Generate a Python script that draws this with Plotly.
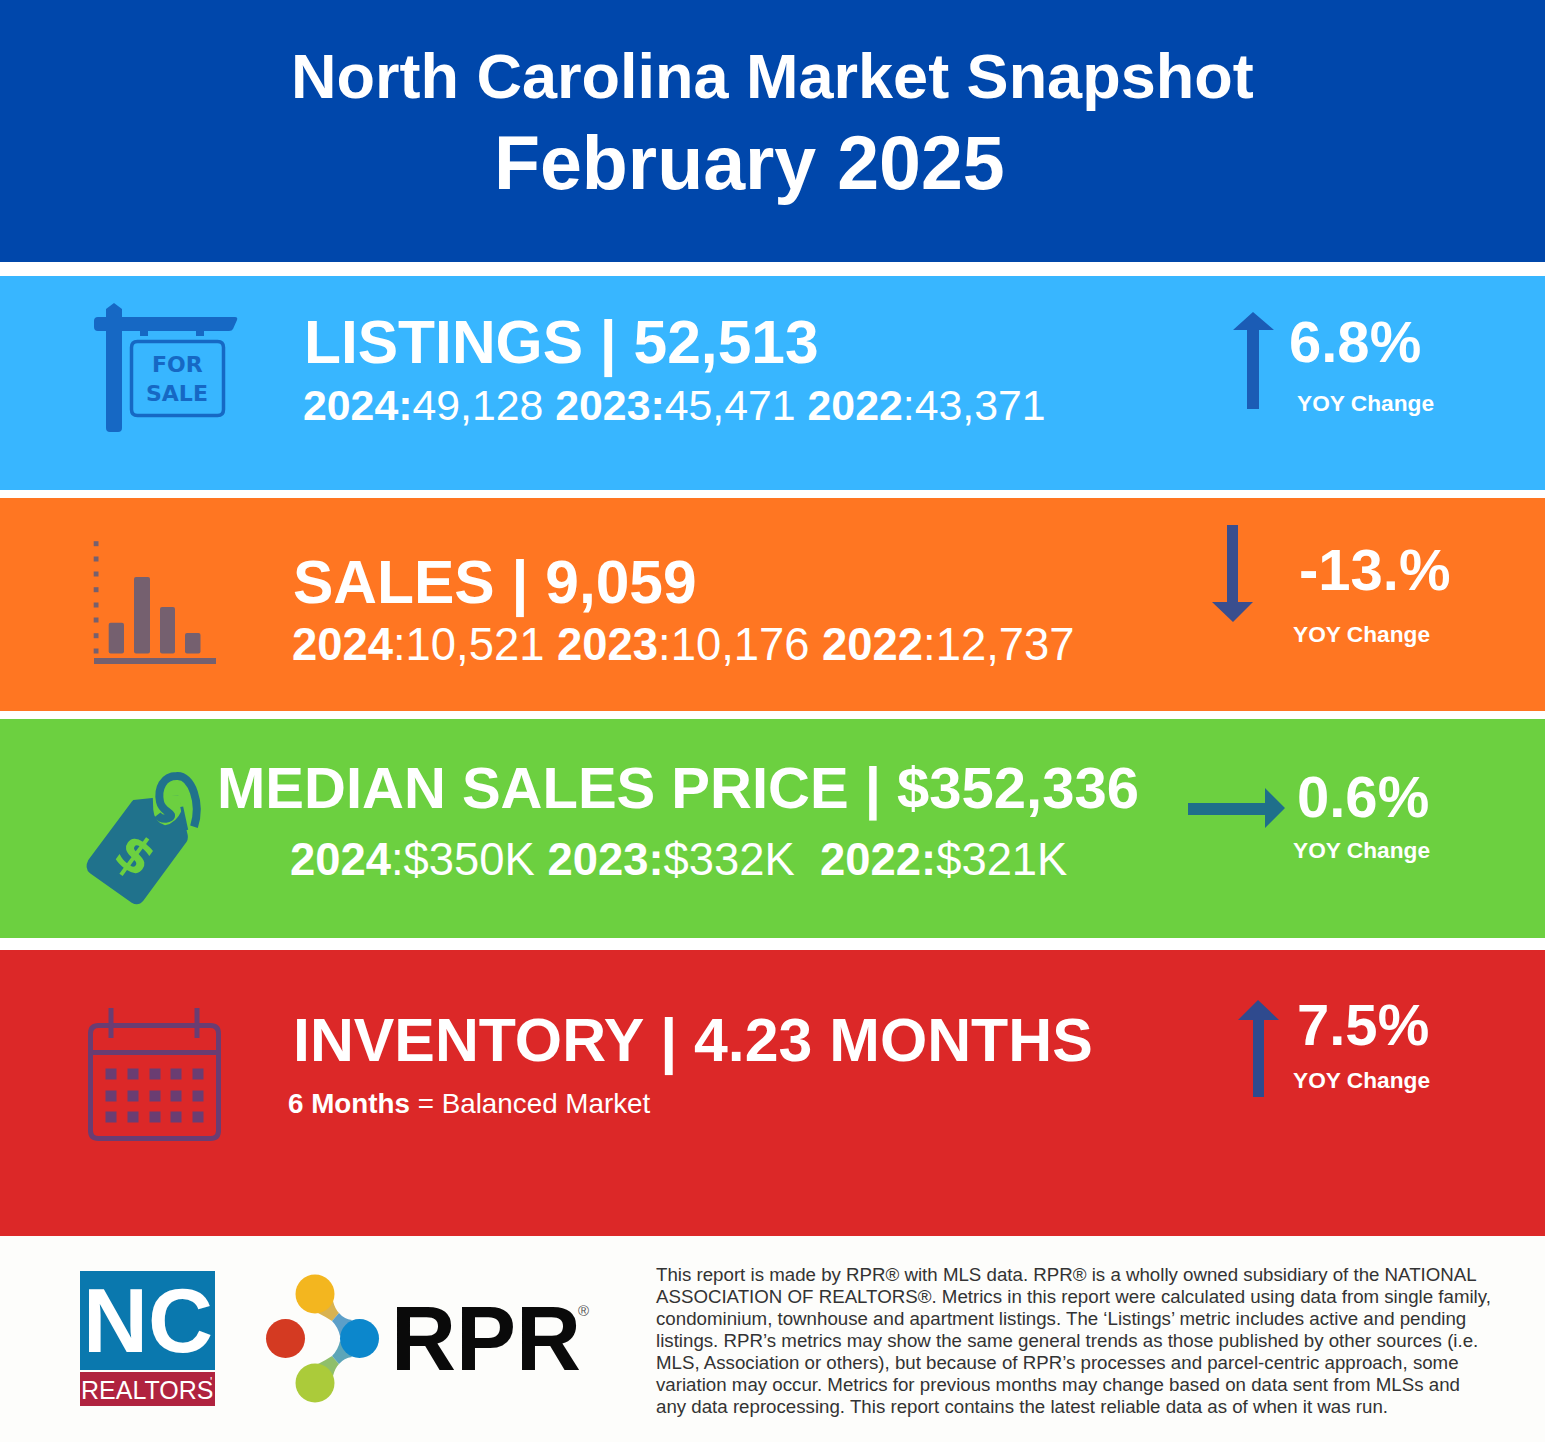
import plotly.graph_objects as go

# ---------- data ----------
metric_names = ["LISTINGS", "SALES", "MEDIAN SALES PRICE", "INVENTORY"]
metric_values = ["52,513", "9,059", "$352,336", "4.23 MONTHS"]
yoy_changes = ["6.8%", "-13.%", "0.6%", "7.5%"]
history_years = ["2024", "2023", "2022"]
listings_history = ["49,128", "45,471", "43,371"]
sales_history = ["10,521", "10,176", "12,737"]
price_history = ["$350K", "$332K", "$321K"]
footer_lines = [
    "This report is made by RPR® with MLS data. RPR® is a wholly owned subsidiary of the NATIONAL",
    "ASSOCIATION OF REALTORS®. Metrics in this report were calculated using data from single family,",
    "condominium, townhouse and apartment listings. The ‘Listings’ metric includes active and pending",
    "listings. RPR’s metrics may show the same general trends as those published by other sources (i.e.",
    "MLS, Association or others), but because of RPR’s processes and parcel-centric approach, some",
    "variation may occur. Metrics for previous months may change based on data sent from MLSs and",
    "any data reprocessing. This report contains the latest reliable data as of when it was run.",
]

W, H = 1545, 1442
FONT = "Liberation Sans"
shapes, annos = [], []


def rect(x0, y0, x1, y1, fill, line=None, lw=0):
    shapes.append(dict(type="rect", x0=x0, y0=y0, x1=x1, y1=y1, fillcolor=fill,
                       line=dict(color=line or fill, width=lw), layer="below"))


def path(d, fill="rgba(0,0,0,0)", line=None, lw=0):
    shapes.append(dict(type="path", path=d, fillcolor=fill,
                       line=dict(color=line or "rgba(0,0,0,0)", width=lw), layer="below"))


def rrect(x0, y0, x1, y1, r):
    return (f"M{x0+r},{y0} L{x1-r},{y0} Q{x1},{y0} {x1},{y0+r} L{x1},{y1-r} Q{x1},{y1} {x1-r},{y1} "
            f"L{x0+r},{y1} Q{x0},{y1} {x0},{y1-r} L{x0},{y0+r} Q{x0},{y0} {x0+r},{y0} Z")


def circle(cx, cy, r, fill):
    shapes.append(dict(type="circle", x0=cx-r, y0=cy-r, x1=cx+r, y1=cy+r, fillcolor=fill,
                       line=dict(width=0), layer="below"))


def text(x, y, s, size, color="#FFFFFF", anchor="left", family=FONT, angle=0):
    annos.append(dict(x=x, y=y, text=s, xref="x", yref="y", showarrow=False, xanchor=anchor,
                      yanchor="middle", textangle=angle, align=anchor,
                      font=dict(family=family, size=size, color=color), borderpad=0, borderwidth=0))


# ---------- bands ----------
rect(0, 0, W, H, "#FDFDFB")
rect(0, 0, W, 262, "#0047AB")
rect(0, 262, W, 276, "#FFFFFF")
rect(0, 276, W, 490, "#38B6FF")
rect(0, 490, W, 498, "#FFFFFF")
rect(0, 498, W, 711, "#FF7622")
rect(0, 711, W, 719, "#FFFFFF")
rect(0, 719, W, 938, "#6CD040")
rect(0, 938, W, 950, "#FFFFFF")
rect(0, 950, W, 1236, "#DC2828")

# ---------- headline text ----------
text(772.5, 76, "<b>North Carolina Market Snapshot</b>", 63, anchor="center")
text(749.5, 163, "<b>February 2025</b>", 75.3, anchor="center")


def headline(i):
    return f"<b>{metric_names[i]} | {metric_values[i]}</b>"


def history(vals, bold_colon):
    parts = []
    for y, v, b in zip(history_years, vals, bold_colon):
        parts.append(f"<b>{y}:</b>{v}" if b else f"<b>{y}</b>:{v}")
    return parts


text(304, 343, headline(0), 60.5)
text(303, 405, " ".join(history(listings_history, [True, True, False])), 42.8)
text(293, 583, headline(1), 60.5)
text(292, 644, " ".join(history(sales_history, [False, False, False])), 45.4)
text(217, 788, headline(2), 58)
text(290, 859, " ".join(history(price_history, [False, True, True])).replace("K <b>2022", "K\u00a0 <b>2022"), 45.4)
text(293, 1041, headline(3), 60.8)
text(288, 1103, "<b>6 Months</b> = Balanced Market", 27.8)

for (x, y, val, yx, yy) in [(1289, 341, yoy_changes[0], 1297, 403),
                            (1299, 569, yoy_changes[1], 1293, 634),
                            (1297, 796, yoy_changes[2], 1293, 850),
                            (1297, 1024, yoy_changes[3], 1293, 1080)]:
    text(x, y, f"<b>{val}</b>", 58)
    text(yx, yy, "<b>YOY Change</b>", 22.7)

# ---------- arrows ----------
path("M1253,312 L1274,330 L1259,330 L1259,409 L1247,409 L1247,330 L1233,330 Z", "#1B5CB5")
path("M1227,525 L1238,525 L1238,602 L1253,602 L1233,622 L1212,602 L1227,602 Z", "#3A4E8E")
path("M1188,803 L1265,803 L1265,788 L1285,808 L1265,828 L1265,815 L1188,815 Z", "#1F6F8B")
path("M1258,1000 L1279,1020 L1264,1020 L1264,1097 L1253,1097 L1253,1020 L1238,1020 Z", "#2F4A8E")

# ---------- for-sale icon ----------
C = "#1668C4"
path("M106,309 L114,303 L122,309 L122,317 L235,317 Q238,317 237,320 L233,329 Q232,331 229,331 L122,331 "
     "L122,428 Q122,432 118,432 L110,432 Q106,432 106,428 L106,331 L98,331 Q94,331 94,327 L94,321 Q94,317 98,317 L106,317 Z", C)
rect(140, 331, 148, 336, C)
rect(196, 331, 204, 336, C)
path(rrect(131.5, 341.5, 223.5, 415.5, 6), line=C, lw=3.5)
text(177, 364.5, "<b>FOR</b>", 22, C, "center", "DejaVu Sans")
text(177, 393.5, "<b>SALE</b>", 22, C, "center", "DejaVu Sans")

# ---------- bar-chart icon ----------
C = "#75606F"
for y in [543.7, 559, 574, 589.7, 605, 620, 635.7, 651]:
    rect(93.7, y-2.5, 98.5, y+2.5, C)
for x0, x1, top in [(108.7, 124, 622.7), (134, 150, 577), (160, 175, 607), (185, 200.5, 633)]:
    path(rrect(x0, top, x1, 653.5, 2), C)
rect(94, 658, 216, 664, C)

# ---------- tag icon ----------
C = "#20728C"
G = "#6CD040"


def z(x, y):
    return f"{70 + x / 3:.1f},{760 + y / 3:.1f}"


path(f"M{z(190,120)} L{z(325,106)} L{z(353,225)} Q{z(356,240)} {z(345,252)} L{z(220,422)} "
     f"Q{z(205,440)} {z(185,428)} L{z(60,340)} Q{z(42,325)} {z(55,300)} L{z(185,125)} Z", C)
path(f"M{z(248,106)} L{z(328,106)} L{z(336,150)} Q{z(318,190)} {z(285,196)} Q{z(252,185)} {z(250,150)} Z", G)
path(f"M{z(372,200)} C{z(395,130)} {z(365,45)} {z(320,48)} C{z(280,48)} {z(262,85)} {z(270,125)} "
     f"C{z(275,150)} {z(298,155)} {z(303,165)} C{z(305,178)} {z(275,182)} {z(262,165)}", line=C, lw=8)
path(f"M{z(335,140)} L{z(350,210)}", line=C, lw=3)
text(135, 855, "<b>$</b>", 50, G, "center", "DejaVu Sans", 36)

# ---------- calendar icon ----------
C = "#6A3D72"
path(rrect(90.5, 1025.5, 218.5, 1138.5, 8), line=C, lw=5)
rect(90, 1050, 219, 1055, C)
path("M111,1008 L111,1038", line=C, lw=5)
path("M197,1008 L197,1038", line=C, lw=5)
for cy in [1074, 1096, 1117]:
    for cx in [111, 133, 155, 176, 198]:
        rect(cx-5.5, cy-5.5, cx+5.5, cy+5.5, C)

# ---------- logos ----------
rect(80, 1271, 215, 1370, "#0A78AE")
rect(80, 1372, 215, 1406, "#B0233F")
text(148, 1321, "<b>NC</b>", 90, anchor="center")
text(147, 1390, "REALTORS", 25, anchor="center")
text(210, 1382, "'", 12)

path("M333,1301 Q335,1309 339,1313 L332,1321 Q326,1317 318,1313 Z", "#D9B250")
path("M339,1313 Q344,1319 352,1320 L340,1336 Q338,1327 332,1321 Z", "#5C9FC8")
path("M333,1376 Q335,1368 339,1364 L332,1356 Q326,1360 318,1364 Z", "#8FBF6A")
path("M339,1364 Q344,1358 352,1357 L340,1341 Q338,1350 332,1356 Z", "#5CA5B8")
circle(315, 1294, 19.5, "#F3B61F")
circle(315, 1383, 19.5, "#ABCB3A")
circle(285.5, 1338.5, 19.5, "#D43A22")
circle(359.5, 1338.5, 19.5, "#0C87CC")
text(391, 1339, "<b>RPR</b>", 90, "#0A0A0A")
text(578, 1310, "®", 15, "#555555")

# ---------- footnote ----------
for i, line in enumerate(footer_lines):
    text(656, 1274 + i * 22, line, 18.7, "#333333")

fig = go.Figure()
fig.update_layout(width=W, height=H, margin=dict(l=0, r=0, t=0, b=0), showlegend=False,
                  paper_bgcolor="#FFFFFF", plot_bgcolor="#FFFFFF",
                  xaxis=dict(range=[0, W], visible=False, fixedrange=True),
                  yaxis=dict(range=[H, 0], visible=False, fixedrange=True),
                  shapes=shapes, annotations=annos)
fig.write_html("out.html", config={"displayModeBar": False},
               post_script="document.body.style.margin='0';document.documentElement.style.overflow='hidden';")
